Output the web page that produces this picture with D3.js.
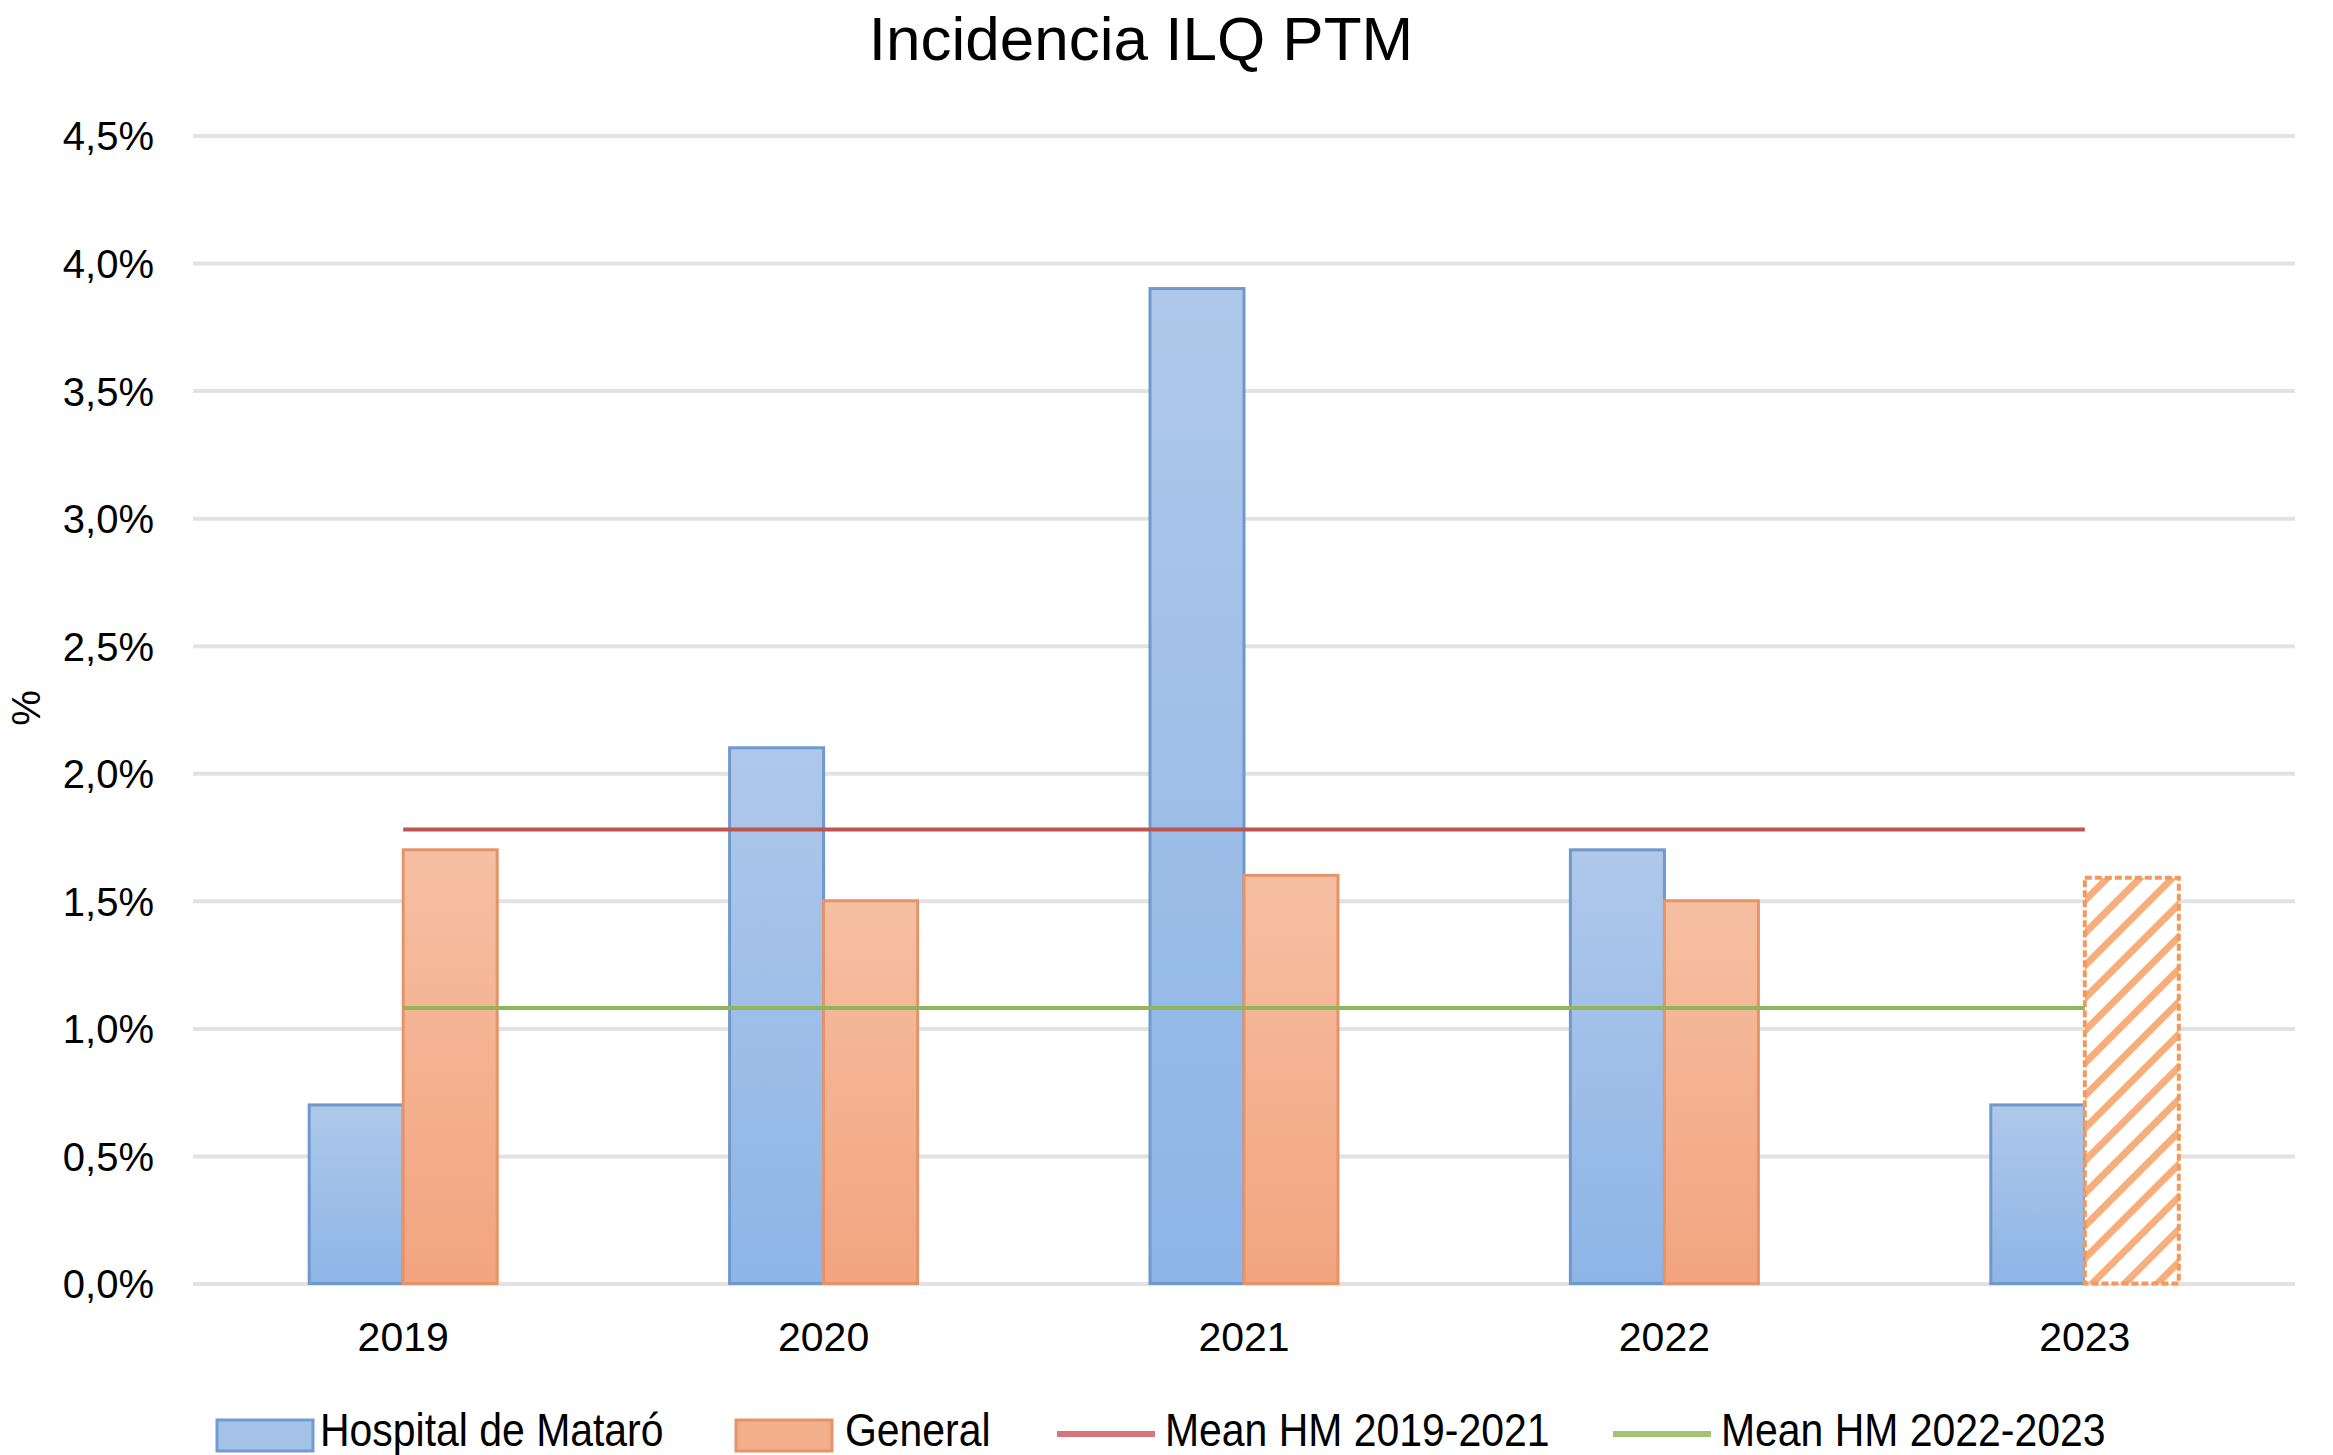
<!DOCTYPE html>
<html>
<head>
<meta charset="utf-8">
<script src="https://cdn.jsdelivr.net/npm/d3@7"></script>
<style>
  html, body { margin: 0; padding: 0; background: #ffffff; }
  svg { display: block; }
  text { font-family: "Liberation Sans", Arial, Helvetica, sans-serif; fill: #000; }
</style>
</head>
<body>
<svg id="chart" width="2333" height="1455"></svg>
<script>
// ---- data ----
const years = ["2019", "2020", "2021", "2022", "2023"];
const hospitalMataro = [0.7, 2.1, 3.9, 1.7, 0.7];
const general = [1.7, 1.5, 1.6, 1.5, 1.59];
const generalProvisional = [false, false, false, false, true];
const meanHM_2019_2021 = 1.78;
const meanHM_2022_2023 = 1.08;
const yTicks = [0, 0.5, 1.0, 1.5, 2.0, 2.5, 3.0, 3.5, 4.0, 4.5];
const seriesNames = ["Hospital de Mataró", "General", "Mean HM 2019-2021", "Mean HM 2022-2023"];
const titleText = "Incidencia ILQ PTM";
const yAxisTitle = "%";

// ---- layout ----
const W = 2333, H = 1455;
const plot = { left: 193, right: 2295, top: 135.5, bottom: 1283.5 };

const svg = d3.select("#chart");
const defs = svg.append("defs");

const blueGrad = defs.append("linearGradient").attr("id", "blueGrad")
  .attr("x1", 0).attr("y1", 0).attr("x2", 0).attr("y2", 1);
blueGrad.append("stop").attr("offset", "0%").attr("stop-color", "#afc8ea");
blueGrad.append("stop").attr("offset", "100%").attr("stop-color", "#8db5e6");

const orangeGrad = defs.append("linearGradient").attr("id", "orangeGrad")
  .attr("x1", 0).attr("y1", 0).attr("x2", 0).attr("y2", 1);
orangeGrad.append("stop").attr("offset", "0%").attr("stop-color", "#f6bfa2");
orangeGrad.append("stop").attr("offset", "100%").attr("stop-color", "#f2a47f");

const hatch = defs.append("pattern").attr("id", "hatch")
  .attr("patternUnits", "userSpaceOnUse")
  .attr("width", 23).attr("height", 23)
  .attr("patternTransform", "rotate(45)");
hatch.append("rect").attr("width", 23).attr("height", 23).attr("fill", "#ffffff");
hatch.append("rect").attr("x", 0).attr("y", 0).attr("width", 7).attr("height", 23).attr("fill", "#f7ae7c");

const x = d3.scaleBand().domain(years).range([plot.left, plot.right]).padding(0);
const x1 = d3.scaleBand().domain(["hm", "gen"]).range([0, x.bandwidth()])
  .paddingInner(0).paddingOuter(1.236);
const y = d3.scaleLinear().domain([0, 4.5]).range([plot.bottom, plot.top]);

const fmt = v => d3.format(".1f")(v).replace(".", ",") + "%";

// gridlines
const grid = svg.append("g")
  .attr("transform", `translate(${plot.left},0)`)
  .call(d3.axisLeft(y).tickValues(yTicks).tickSize(-(plot.right - plot.left)).tickFormat(""));
grid.select(".domain").remove();
grid.selectAll(".tick line").attr("stroke", "#e2e2e2").attr("stroke-width", 4);

// y tick labels
const yAxis = svg.append("g")
  .attr("transform", `translate(154,0)`)
  .call(d3.axisLeft(y).tickValues(yTicks).tickSize(0).tickPadding(0).tickFormat(fmt));
yAxis.select(".domain").remove();
yAxis.selectAll("text")
  .attr("font-family", "'Liberation Sans', Arial, sans-serif")
  .attr("font-size", 40).attr("fill", "#000").attr("dy", "0.36em").attr("x", 0);

// x labels
const xAxis = svg.append("g")
  .attr("transform", `translate(0,${plot.bottom})`)
  .call(d3.axisBottom(x).tickSize(0).tickPadding(0));
xAxis.select(".domain").remove();
xAxis.selectAll("text")
  .attr("font-family", "'Liberation Sans', Arial, sans-serif")
  .attr("font-size", 41).attr("fill", "#000").attr("dy", 0).attr("y", 67);

// bars
const rows = years.map((yr, i) => ({ yr, hm: hospitalMataro[i], gen: general[i], prov: generalProvisional[i] }));
const groups = svg.append("g").selectAll("g").data(rows).join("g")
  .attr("transform", d => `translate(${x(d.yr)},0)`);

groups.append("rect")
  .attr("x", x1("hm")).attr("width", x1.bandwidth())
  .attr("y", d => y(d.hm)).attr("height", d => y(0) - y(d.hm))
  .attr("fill", "url(#blueGrad)").attr("stroke", "#6f98cc").attr("stroke-width", 3);

groups.append("rect")
  .attr("x", x1("gen")).attr("width", x1.bandwidth())
  .attr("y", d => y(d.gen)).attr("height", d => y(0) - y(d.gen))
  .attr("fill", d => d.prov ? "url(#hatch)" : "url(#orangeGrad)")
  .attr("stroke", d => d.prov ? "#f29a5e" : "#e5946a")
  .attr("stroke-width", d => d.prov ? 4 : 3)
  .attr("stroke-dasharray", d => d.prov ? "7,3" : null);

// mean lines
const xc = yr => x(yr) + x.bandwidth() / 2;
svg.append("line")
  .attr("x1", xc(years[0])).attr("x2", xc(years[years.length - 1]))
  .attr("y1", y(meanHM_2019_2021)).attr("y2", y(meanHM_2019_2021))
  .attr("stroke", "#b9564f").attr("stroke-width", 4);
svg.append("line")
  .attr("x1", xc(years[0])).attr("x2", xc(years[years.length - 1]))
  .attr("y1", y(meanHM_2022_2023)).attr("y2", y(meanHM_2022_2023))
  .attr("stroke", "#8fb75a").attr("stroke-width", 4);

// title
svg.append("text").attr("x", 1141).attr("y", 60)
  .attr("text-anchor", "middle").attr("font-size", 62).text(titleText);

// y axis title
svg.append("text").attr("transform", "translate(40,708) rotate(-90)")
  .attr("text-anchor", "middle").attr("font-size", 40).text(yAxisTitle);

// legend
const legendItems = [
  { name: seriesNames[0], type: "rect", fill: "#a4c1e8", stroke: "#729dd2", sx: 217, tx: 320 },
  { name: seriesNames[1], type: "rect", fill: "#f3ae8c", stroke: "#e5946a", sx: 736, tx: 845 },
  { name: seriesNames[2], type: "line", stroke: "#d8747a", sx: 1057, tx: 1165 },
  { name: seriesNames[3], type: "line", stroke: "#a3c472", sx: 1613, tx: 1721 }
];
const lg = svg.append("g");
legendItems.forEach(it => {
  if (it.type === "rect") {
    lg.append("rect").attr("x", it.sx).attr("y", 1420).attr("width", 96).attr("height", 31)
      .attr("fill", it.fill).attr("stroke", it.stroke).attr("stroke-width", 3);
  } else {
    lg.append("line").attr("x1", it.sx).attr("x2", it.sx + 98)
      .attr("y1", 1434).attr("y2", 1434)
      .attr("stroke", it.stroke).attr("stroke-width", 6);
  }
  lg.append("text")
    .attr("transform", `translate(${it.tx},1446) scale(0.89,1)`)
    .attr("font-size", 46).text(it.name);
});
</script>
</body>
</html>
